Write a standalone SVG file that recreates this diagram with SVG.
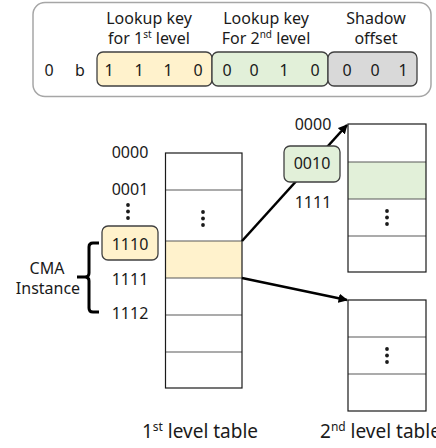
<svg xmlns="http://www.w3.org/2000/svg" width="436" height="448" viewBox="0 0 436 448">
  <style>
    text { font-family: "Noto Sans", "Open Sans", "Noto Sans CJK KR", sans-serif; fill: #1a1a1a; }
    .t16 { font-size: 16px; text-anchor: middle; }
    .bit { font-size: 16px; text-anchor: middle; }
    .cap { font-size: 19px; }
    .tbl { fill: none; stroke: #1a1a1a; stroke-width: 1.2; }
    .row { stroke: #595959; stroke-width: 1.2; }
    .key { stroke: #404040; stroke-width: 1.3; }
    .conn { fill: none; stroke: #000; stroke-width: 2.6; }
    .dot { fill: #1a1a1a; }
  </style>
  <defs>
    <marker id="arrow" viewBox="0 0 10 10" refX="9" refY="5" markerWidth="3.6" markerHeight="3.6" orient="auto" markerUnits="strokeWidth">
      <path d="M0,0 L10,5 L0,10 z" fill="#000"/>
    </marker>
  </defs>

  <!-- address bit layout -->
  <g id="address">
    <rect x="33" y="2.5" width="398" height="94" rx="12" fill="#fff" stroke="#a6a6a6" stroke-width="1.5"/>
    <text class="t16" x="149" y="24">Lookup key</text>
    <text class="t16" x="149" y="44">for 1<tspan font-size="10" dy="-6">st</tspan><tspan dy="6"> level</tspan></text>
    <text class="t16" x="266" y="24">Lookup key</text>
    <text class="t16" x="266" y="44">For 2<tspan font-size="10" dy="-6">nd</tspan><tspan dy="6"> level</tspan></text>
    <text class="t16" x="376" y="24">Shadow</text>
    <text class="t16" x="376" y="44">offset</text>
    <text class="bit" x="49" y="76">0</text>
    <text class="bit" x="80" y="76">b</text>
    <rect class="key" x="97" y="52" width="115" height="34" rx="6" fill="#fff2cc"/>
    <rect class="key" x="212" y="52" width="116" height="34" rx="6" fill="#e2f0d9"/>
    <rect class="key" x="328" y="52" width="89" height="34" rx="6" fill="#d9d9d9"/>
    <text class="bit" x="109" y="76">1</text>
    <text class="bit" x="139" y="76">1</text>
    <text class="bit" x="168" y="76">1</text>
    <text class="bit" x="198" y="76">0</text>
    <text class="bit" x="227" y="76">0</text>
    <text class="bit" x="254" y="76">0</text>
    <text class="bit" x="284" y="76">1</text>
    <text class="bit" x="315" y="76">0</text>
    <text class="bit" x="347" y="76">0</text>
    <text class="bit" x="375" y="76">0</text>
    <text class="bit" x="403" y="76">1</text>
  </g>

  <!-- first level table -->
  <g id="level1">
    <rect x="165.5" y="241" width="76.5" height="37" fill="#fff2cc"/>
    <line class="row" x1="165.5" y1="190" x2="242" y2="190" stroke="#1a1a1a"/>
    <line class="row" x1="165.5" y1="241" x2="242" y2="241"/>
    <line class="row" x1="165.5" y1="278" x2="242" y2="278"/>
    <line class="row" x1="165.5" y1="315" x2="242" y2="315"/>
    <line class="row" x1="165.5" y1="352" x2="242" y2="352"/>
    <rect class="tbl" x="165.5" y="153" width="76.5" height="235"/>
    <circle class="dot" cx="203" cy="212" r="1.9"/>
    <circle class="dot" cx="203" cy="218.5" r="1.9"/>
    <circle class="dot" cx="203" cy="225" r="1.9"/>
    <text class="cap" x="200" y="438" text-anchor="middle">1<tspan font-size="12" dy="-7">st</tspan><tspan dy="7"> level table</tspan></text>
  </g>

  <!-- first level indices -->
  <g id="level1-index">
    <text class="t16" x="130" y="158">0000</text>
    <text class="t16" x="130" y="195">0001</text>
    <circle class="dot" cx="128" cy="205" r="1.9"/>
    <circle class="dot" cx="128" cy="211.5" r="1.9"/>
    <circle class="dot" cx="128" cy="218" r="1.9"/>
    <rect class="key" x="102" y="226" width="56" height="34" rx="6" fill="#fff2cc"/>
    <text class="t16" x="130" y="250">1110</text>
    <text class="t16" x="130" y="285">1111</text>
    <text class="t16" x="130" y="319">1112</text>
  </g>

  <!-- CMA instance bracket -->
  <g id="cma">
    <path d="M99,243 L93,243 Q89,243 89,247 L89,273 Q89,277 85,277 L77,277 M85,277 Q89,277 89,281 L89,308 Q89,312 93,312 L99,312" fill="none" stroke="#000" stroke-width="3"/>
    <text class="t16" x="47" y="274">CMA</text>
    <text class="t16" x="48" y="294">Instance</text>
  </g>

  <!-- second level table (upper) -->
  <g id="level2a">
    <rect x="348" y="162" width="78" height="37" fill="#e2f0d9"/>
    <line class="row" x1="348" y1="162" x2="426" y2="162"/>
    <line class="row" x1="348" y1="199" x2="426" y2="199"/>
    <line class="row" x1="348" y1="236" x2="426" y2="236"/>
    <rect class="tbl" x="348" y="124" width="78" height="148"/>
    <circle class="dot" cx="387" cy="211" r="1.9"/>
    <circle class="dot" cx="387" cy="217.5" r="1.9"/>
    <circle class="dot" cx="387" cy="224" r="1.9"/>
  </g>

  <!-- second level table (lower) -->
  <g id="level2b">
    <line class="row" x1="348" y1="337" x2="426" y2="337"/>
    <line class="row" x1="348" y1="374" x2="426" y2="374"/>
    <rect class="tbl" x="348" y="300" width="78" height="111"/>
    <circle class="dot" cx="387" cy="349" r="1.9"/>
    <circle class="dot" cx="387" cy="355.5" r="1.9"/>
    <circle class="dot" cx="387" cy="362" r="1.9"/>
    <text class="cap" x="320" y="438">2<tspan font-size="12" dy="-7">nd</tspan><tspan dy="7"> level table</tspan></text>
  </g>

  <!-- connectors -->
  <g id="connectors">
    <line class="conn" x1="242" y1="241" x2="347" y2="125" marker-end="url(#arrow)"/>
    <line class="conn" x1="242" y1="278" x2="347" y2="300" marker-end="url(#arrow)"/>
  </g>

  <!-- second level index labels -->
  <g id="level2-index">
    <text class="t16" x="313" y="130">0000</text>
    <rect class="key" x="284" y="146" width="56" height="36" rx="6" fill="#e2f0d9"/>
    <text class="t16" x="312" y="169">0010</text>
    <text class="t16" x="313" y="208">1111</text>
  </g>
</svg>
